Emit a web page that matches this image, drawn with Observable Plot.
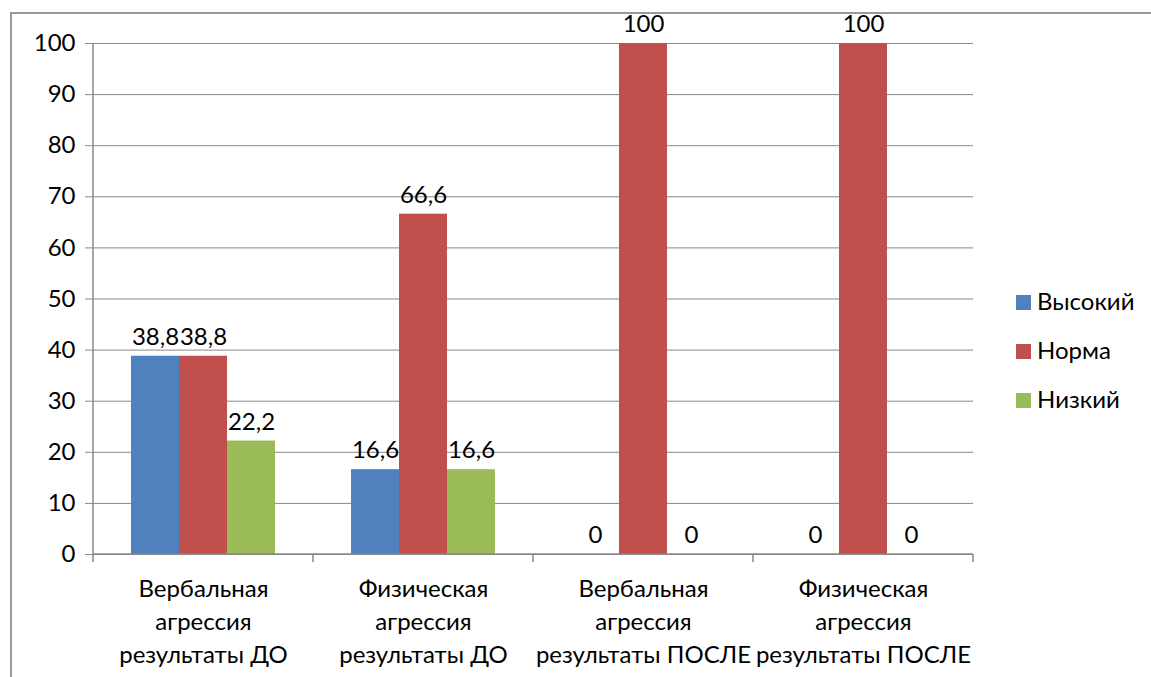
<!DOCTYPE html>
<html>
<head>
<meta charset="utf-8">
<script src="https://cdn.jsdelivr.net/npm/d3@7"></script>
<script src="https://cdn.jsdelivr.net/npm/@observablehq/plot@0.6"></script>
<style>
  html, body { margin: 0; padding: 0; background: #fff; overflow: hidden; }
  #wrap { position: relative; width: 1151px; height: 677px; font-family: Lato, "Open Sans", sans-serif; }
  #frame { position: absolute; left: 10px; top: 12px; width: 1200px; height: 700px;
           border-top: 2px solid #999; border-left: 2px solid #999; pointer-events: none; }
  #legend { position: absolute; left: 1016px; top: 276px; font-size: 24px; color: #000; }
  #legend .row { display: flex; align-items: center; height: 49px; }
  #legend .sw { width: 15px; height: 15px; margin-right: 6px; position: relative; top: 2px; }
  #chart { position: absolute; left: 0; top: 0; }
</style>
</head>
<body>
<div id="wrap">
  <div id="chart"></div>
  <div id="frame"></div>
  <div id="legend"></div>
</div>
<script>
const categories = [
  "Вербальная\nагрессия\nрезультаты ДО",
  "Физическая\nагрессия\nрезультаты ДО",
  "Вербальная\nагрессия\nрезультаты ПОСЛЕ",
  "Физическая\nагрессия\nрезультаты ПОСЛЕ"
];
const series = ["Высокий", "Норма", "Низкий"];
const vysokiy = [38.8, 16.6, 0, 0];
const norma = [38.8, 66.6, 100, 100];
const nizkiy = [22.2, 16.6, 0, 0];
const colors = ["#4F81BD", "#C0504D", "#9BBB59"];
const yTicks = [0, 10, 20, 30, 40, 50, 60, 70, 80, 90, 100];

const seriesValues = [vysokiy, norma, nizkiy];
const data = categories.flatMap((c, i) =>
  series.map((s, j) => ({category: c, series: s, value: seriesValues[j][i]}))
);
const fmt = v => String(v).replace(".", ",");

const plot = Plot.plot({
  width: 1151,
  height: 677,
  marginLeft: 93,
  marginRight: 178,
  marginTop: 43,
  marginBottom: 123,
  style: {fontFamily: "Lato, 'Open Sans', sans-serif", fontSize: "24px", color: "#000", background: "transparent"},
  fx: {domain: categories, padding: 0, label: null},
  x: {domain: series, paddingInner: 0, paddingOuter: 0.76, axis: null},
  y: {domain: [0, 100], label: null},
  color: {domain: series, range: colors},
  marks: [
    Plot.gridY(yTicks, {stroke: "#888", strokeOpacity: 1}),
    Plot.barY(data, {fx: "category", x: "series", y: "value", fill: "series"}),
    Plot.text(data, {fx: "category", x: "series", y: "value", text: d => fmt(d.value), dy: -19, fill: "#000", fontSize: 24}),
    Plot.axisY(yTicks, {tickSize: 8, tickPadding: 10, stroke: "#888", fill: "#000", fontSize: 24, label: null}),
    Plot.axisFx({anchor: "bottom", tickSize: 0, tickPadding: 19, fontSize: 24, lineHeight: 1.375, fill: "#000", label: null})
  ]
});
document.getElementById("chart").appendChild(plot);

// axis lines and category boundary ticks using the plot's own scales
const fx = plot.scale("fx");
const y = plot.scale("y");
const svg = d3.select(plot);
const x0 = fx.range[0], x1 = fx.range[1];
const y0 = y.apply(0), y100 = y.apply(100);
const g = svg.append("g").attr("stroke", "#888").attr("stroke-width", 1.5);
g.append("line").attr("x1", x0).attr("x2", x0).attr("y1", y100).attr("y2", y0);
g.append("line").attr("x1", x0).attr("x2", x1).attr("y1", y0).attr("y2", y0);
const bounds = fx.domain.map(d => fx.apply(d)).concat([x1]);
bounds.forEach(b => g.append("line").attr("x1", b).attr("x2", b).attr("y1", y0).attr("y2", y0 + 8));

// legend
const legend = d3.select("#legend");
series.forEach((s, i) => {
  const row = legend.append("div").attr("class", "row");
  row.append("div").attr("class", "sw").style("background", colors[i]);
  row.append("span").text(s);
});
</script>
</body>
</html>
